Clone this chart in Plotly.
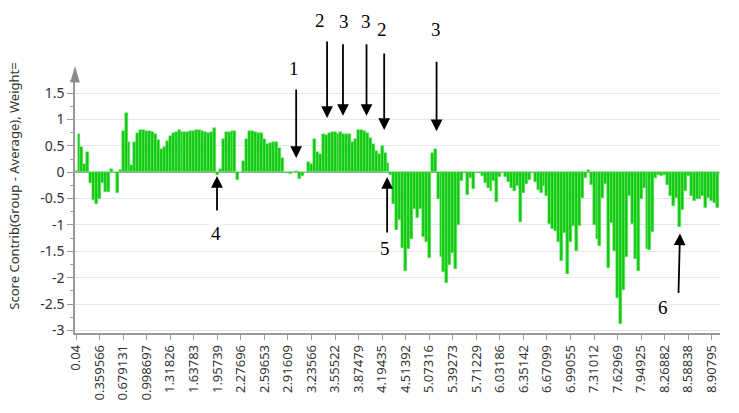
import plotly.graph_objects as go

# x tick labels (every 8th category)
tick_labels = ["0.04", "0.359566", "0.679131", "0.998697", "1.31826", "1.63783", "1.95739",
               "2.27696", "2.59653", "2.91609", "3.23566", "3.55522", "3.87479", "4.19435",
               "4.51392", "5.07316", "5.39273", "5.71229", "6.03186", "6.35142", "6.67099",
               "6.99055", "7.31012", "7.62969", "7.94925", "8.26882", "8.58838", "8.90795"]

# score contributions, one per category (left to right)
scores = [
    0.03, 0.72, 0.47, 0.16, 0.39, -0.21, -0.52, -0.60, -0.50, -0.20, -0.38, -0.38, 0.06, 0.01, -0.39, 0.05,
    0.78, 1.13, 0.58, 0.14, 0.58, 0.75, 0.81, 0.80, 0.79, 0.78, 0.76, 0.72, 0.61, 0.45, 0.47, 0.59,
    0.69, 0.75, 0.77, 0.80, 0.76, 0.77, 0.76, 0.79, 0.79, 0.80, 0.80, 0.79, 0.76, 0.75, 0.76, 0.84,
    -0.05, 0.06, 0.64, 0.77, 0.76, 0.79, 0.78, -0.14, 0.00, 0.22, 0.64, 0.79, 0.79, 0.76, 0.75, 0.74,
    0.64, 0.54, 0.56, 0.58, 0.58, 0.46, 0.27, 0.00, -0.02, -0.03, 0.01, 0.03, -0.12, -0.08, 0.00, 0.20,
    0.15, 0.64, 0.39, 0.35, 0.72, 0.71, 0.75, 0.77, 0.77, 0.73, 0.76, 0.73, 0.73, 0.72, 0.58, 0.64,
    0.80, 0.80, 0.78, 0.74, 0.65, 0.53, 0.40, 0.35, 0.49, 0.37, 0.17, -0.05, -0.60, -1.10, -0.90, -1.44,
    -1.87, -1.46, -1.26, -0.69, -0.86, -0.70, -1.23, -1.32, -1.62, 0.37, 0.44, -0.51, -1.61, -1.90, -2.10, -1.76,
    -1.53, -1.84, -1.00, -0.17, -0.02, -0.44, -0.10, -0.31, 0.00, -0.01, -0.07, -0.20, -0.30, -0.35, -0.17, -0.57,
    -0.09, 0.00, -0.09, -0.19, -0.30, -0.36, -0.26, -0.95, -0.40, -0.23, -0.14, 0.00, -0.19, -0.33, -0.39, -0.26,
    -0.45, -0.99, -1.08, -1.11, -1.33, -1.69, -1.15, -1.94, -1.33, -1.02, -1.50, -1.02, -0.49, -0.11, 0.05, -0.25,
    -1.00, -1.26, -1.40, -0.48, -0.22, -1.82, -0.96, -1.49, -2.39, -2.88, -2.23, -1.60, -0.45, -0.99, -1.64, -1.88,
    -0.50, -0.30, -1.46, -1.48, -1.14, -0.11, -0.05, -0.08, -0.06, -0.24, -0.46, -0.64, -0.49, -1.03, -0.72, -0.35,
    -0.08, -0.45, -0.54, -0.50, -0.50, -0.46, -0.67, -0.48, -0.55, -0.58, -0.68,
]

y_tick_values = [-3, -2.5, -2, -1.5, -1, -0.5, 0, 0.5, 1, 1.5]
y_tick_labels = ["-3", "-2.5", "-2", "-1.5", "-1", "-0.5", "0", "0.5", "1", "1.5"]

# callouts: label, arrow tip (category position, value), tail offset (px)
callout_labels = ["1", "2", "3", "3", "2", "3", "4", "5", "6"]
callout_tip_x = [74.8, 85.3, 90.7, 98.7, 104.7, 122.5, 47.9, 105.7, 205.2]
callout_tip_y = [0.27, 1.03, 1.07, 1.07, 0.80, 0.78, -0.07, -0.09, -1.16]
callout_tail_dx = [0, 0, 0, 0, 0, 0, 0, 0, -1.5]
callout_tail_dy = [-70, -78, -73, -73, -78, -71, 36, 57, 61]
# label positions: category position and height as a fraction of the plot area
callout_text_x = [74.2, 82.9, 91.1, 98.5, 104.0, 122.3, 47.6, 105.0, 199.5]
callout_text_yfrac = [1.047, 1.237, 1.230, 1.230, 1.198, 1.198, 0.394, 0.335, 0.101]

positions = list(range(len(scores)))
tick_positions = positions[::8][:len(tick_labels)]

fig = go.Figure(go.Bar(
    x=positions, y=scores,
    marker=dict(color="#12c912", line=dict(color="#72ea72", width=0.5)),
    hoverinfo="x+y",
))

annotations = []
for lab, tx, ty, dx, dy, lx, ly in zip(callout_labels, callout_tip_x, callout_tip_y,
                                       callout_tail_dx, callout_tail_dy,
                                       callout_text_x, callout_text_yfrac):
    annotations.append(dict(x=tx, y=ty, xref="x", yref="y", text="", showarrow=True,
                            ax=dx, ay=dy, arrowhead=2, arrowsize=1.3, arrowwidth=1.8,
                            arrowcolor="black"))
    annotations.append(dict(x=lx, y=ly, xref="x", yref="paper", text=lab, showarrow=False,
                            xanchor="center", yanchor="middle",
                            font=dict(family="Liberation Serif, Times New Roman, serif",
                                      size=19, color="black"),
                            bgcolor="white", borderpad=2))

annotations.append(dict(x=-0.094, y=0.58, xref="paper", yref="paper",
                        text="Score Contrib(Group - Average), Weight=", showarrow=False,
                        textangle=-90, xanchor="center", yanchor="middle",
                        font=dict(family="Noto Sans, Open Sans, sans-serif", size=13, color="#333")))

fig.update_layout(
    width=739, height=413,
    margin=dict(l=75, r=19, t=80, b=80),
    paper_bgcolor="white", plot_bgcolor="white",
    showlegend=False, bargap=0.0,
    font=dict(family="Noto Sans, Open Sans, sans-serif", size=13, color="#333"),
    annotations=annotations,
    shapes=[dict(type="path", xref="paper", yref="paper",
                 path="M -0.0075,0.99 L 0.0075,0.99 L 0,1.055 Z",
                 fillcolor="#8a8a8a", line=dict(width=0))],
)
fig.update_xaxes(
    range=[-0.35, 218.8], tickmode="array", tickvals=tick_positions, ticktext=tick_labels,
    tickangle=-90, ticks="outside", ticklen=5, tickcolor="#9a9a9a",
    showline=True, linecolor="#9a9a9a", linewidth=1.5,
    showgrid=False, zeroline=False, tickfont=dict(size=13, color="#333"),
)
fig.update_yaxes(
    range=[-3.05, 1.75], tickmode="array", tickvals=y_tick_values, ticktext=y_tick_labels,
    ticks="outside", ticklen=6, tickcolor="#9a9a9a",
    showline=True, linecolor="#9a9a9a", linewidth=1.5,
    showgrid=True, gridcolor="#e6e6e6", gridwidth=1,
    zeroline=True, zerolinecolor="#a0a0a0", zerolinewidth=1,
    minor=dict(tickmode="linear", tick0=0, dtick=0.25, ticks="outside", ticklen=3,
               tickcolor="#9a9a9a", showgrid=False),
    tickfont=dict(size=14, color="#333"),
)

fig.write_html("out.html", config={"displayModeBar": False},
               post_script="document.body.style.margin='0';")
